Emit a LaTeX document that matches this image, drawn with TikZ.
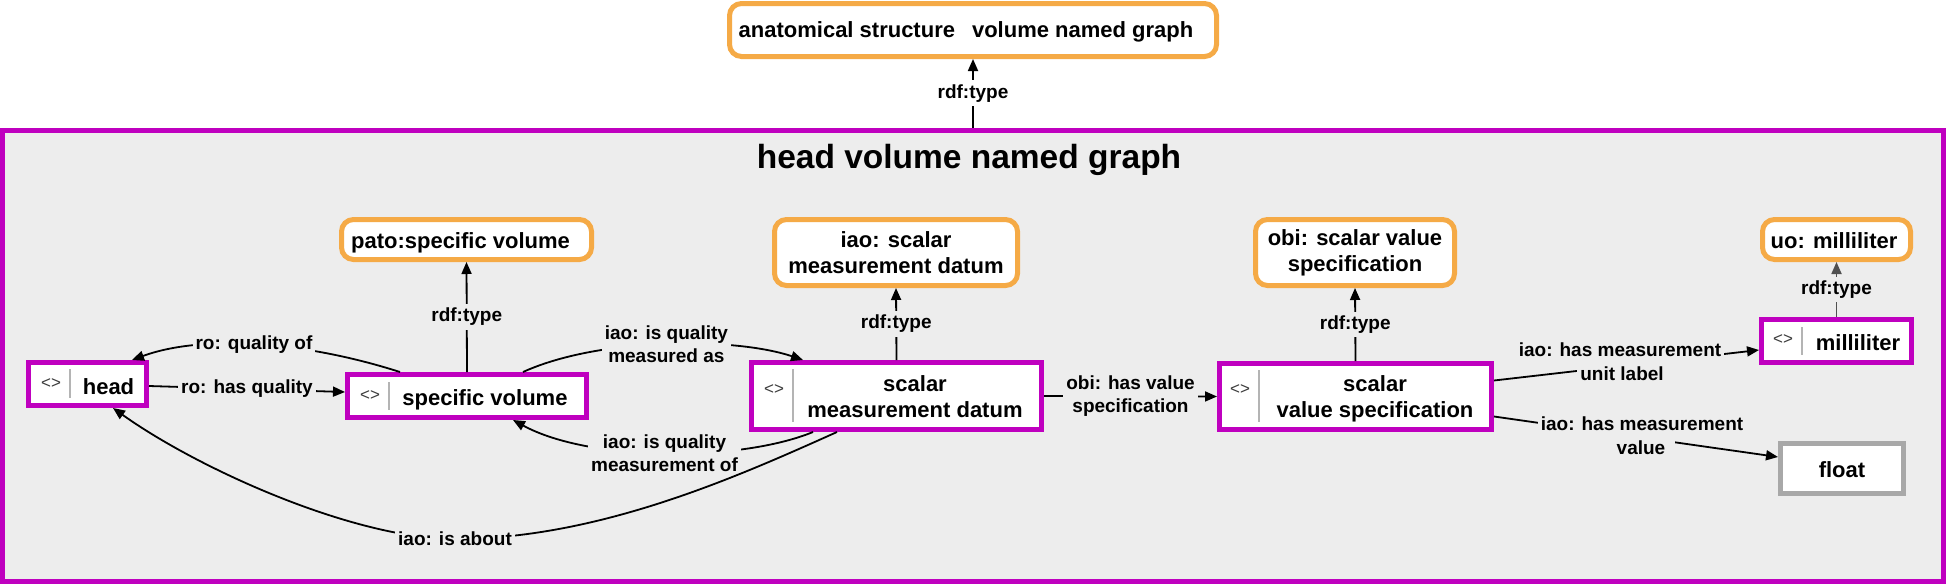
\documentclass[tikz,border=0pt]{standalone}
\usepackage{fontspec}
\setmainfont{Liberation Sans}
\usetikzlibrary{arrows.meta,calc}
\definecolor{pur}{RGB}{191,0,191}
\definecolor{org}{RGB}{245,170,70}
\definecolor{bgc}{RGB}{237,237,237}
\definecolor{fgray}{RGB}{168,168,168}
\definecolor{sepc}{RGB}{180,180,180}
\definecolor{icon}{RGB}{60,60,60}
\definecolor{dg}{RGB}{80,80,80}
\begin{document}
\begin{tikzpicture}[x=1pt,y=-1pt,
  pbox/.style={draw=pur, line width=5pt, fill=white, inner sep=0pt},
  obox/.style={draw=org, line width=5pt, fill=white, rounded corners=12pt, inner sep=0pt, align=center,
               font=\fontsize{22}{26}\selectfont\bfseries},
  gbox/.style={draw=fgray, line width=5pt, fill=white, inner sep=0pt,
               font=\fontsize{22}{26}\selectfont\bfseries},
  one/.style={text height=21pt, text depth=4pt},
  ntext/.style={font=\fontsize{22}{26}\selectfont\bfseries, inner sep=0pt, align=center},
  lbl/.style={font=\fontsize{19}{23}\selectfont\bfseries, fill=bgc, inner xsep=3pt, inner ysep=4pt, align=center},
  lbl5/.style={lbl, inner ysep=5pt},
  conn/.style={line width=1.8pt, -{Triangle[length=12pt,width=10pt]}},
  icn/.style={font=\fontsize{17}{17}\selectfont, text=icon, inner sep=0pt, anchor=base},
  sepl/.style={draw=sepc, line width=2pt},
  ttl/.style={font=\fontsize{33.5}{36}\selectfont\bfseries, inner sep=0pt, anchor=base}]
\useasboundingbox (0,0) rectangle (1946,584);

% named graph frame
\node[pbox, fill=bgc, minimum width=1941pt, minimum height=451pt] (frame) at (973,355.5) {};
\node[ttl] (title) at (969,168) {head volume named graph};

% top class
\node[obox, one, text height=20pt, text depth=6pt, minimum width=487pt, minimum height=53pt] (top) at (973,30)
  {anatomical structure\hspace{17pt}volume named graph\kern14pt};
\draw[conn] (frame.north) -- node[lbl, fill=white] (l0) {rdf:type} (top.south);

% orange classes
\node[obox, one, minimum width=250pt, minimum height=40pt] (pato) at (466.5,239.5) {pato:specific volume\kern12pt};
\node[obox, minimum width=243pt, minimum height=66pt] (iao) at (896,252.5) {iao: scalar\\measurement datum};
\node[obox, minimum width=199pt, minimum height=66pt] (obi) at (1355,252.5) {obi: scalar value\\specification};
\node[obox, one, minimum width=148pt, minimum height=40pt] (uo) at (1836.5,239.5) {uo: milliliter\kern5pt};

% head
\node[pbox, minimum width=118pt, minimum height=43pt] (head) at (87.5,384) {};
\node[icn] (head-i) at (51,388) {<>};
\draw[sepl] (70,369) -- (70,398);
\node[ntext, anchor=base] (head-t) at (108.5,394) {head};

% specific volume
\node[pbox, minimum width=239pt, minimum height=43pt] (sv) at (467,396) {};
\node[icn] (sv-i) at (370,400) {<>};
\draw[sepl] (389,382) -- (389,410);
\node[ntext, anchor=base] (sv-t) at (485,405) {specific volume};

% scalar measurement datum
\node[pbox, minimum width=290pt, minimum height=67pt] (smd) at (896.5,396) {};
\node[icn] (smd-i) at (774,394) {<>};
\draw[sepl] (793,369) -- (793,422);
\node[ntext] (smd-t) at (915,397) {scalar\\measurement datum};

% scalar value specification
\node[pbox, minimum width=272pt, minimum height=66pt] (svs) at (1355.5,396.5) {};
\node[icn] (svs-i) at (1240,394) {<>};
\draw[sepl] (1259,370) -- (1259,422);
\node[ntext] (svs-t) at (1375,399) {scalar\\value specification};

% milliliter
\node[pbox, minimum width=150pt, minimum height=43pt] (ml) at (1836.5,341) {};
\node[icn] (ml-i) at (1783,344) {<>};
\draw[sepl] (1802,327) -- (1802,355);
\node[ntext, anchor=base] (ml-t) at (1858,350) {milliliter};

% float
\node[gbox, one, minimum width=123pt, minimum height=50pt] (fl) at (1842,468.5) {float};

% rdf:type connectors
\draw[conn] (sv.north) -- node[lbl] (l1) {rdf:type} (pato.south);
\draw[conn] (smd.north) -- node[lbl] (l2) {rdf:type} (iao.south);
\draw[conn] (svs.north) -- node[lbl] (l3) {rdf:type} (obi.south);
\draw[conn, draw=dg] (ml.north) -- node[lbl] (l4) {rdf:type} (uo.south);

% relations
\draw[conn] ([yshift=-2pt]head.east) -- node[lbl] (l5) {ro: has quality} ([yshift=4pt]sv.west);
\draw[conn] ([xshift=55pt]sv.north west) .. controls (300,340) and (200,335) ..
  ([xshift=106pt]head.north west) node[lbl, pos=0.5] (l6) {ro: quality of};
\draw[conn] ([xshift=178pt]sv.north west) .. controls (600,337) and (735,337) ..
  ([xshift=54pt]smd.north west) node[lbl, pos=0.5] (l7) {iao: is quality\\measured as};
\draw[conn] ([xshift=64pt]smd.south west) .. controls (740,462) and (590,462) ..
  ([xshift=168pt]sv.south west) node[lbl, pos=0.5] (l8) {iao: is quality\\measurement of};
\draw[conn] ([xshift=88pt]smd.south west) .. controls (741,475) and (600,539) .. (455,539)
  node[lbl] (l9) {iao: is about}
  .. controls (355,539) and (200,470) .. ([xshift=87pt]head.south west);
\draw[conn] (smd.east) -- node[lbl] (l10) {obi: has value\\specification} (svs.west);
\draw[conn] ([yshift=16pt]svs.east) -- ([yshift=-9pt]ml.west);
\node[lbl5] (l11a) at (1620,350) {iao: has measurement};
\node[lbl5] (l11b) at (1622,374) {unit label};
\draw[conn] ([yshift=-20pt]svs.east) -- ([yshift=11.5pt]fl.west);
\node[lbl5] (l12a) at (1642,424) {iao: has measurement};
\node[lbl5, inner xsep=10pt] (l12b) at (1641,448) {value};
\end{tikzpicture}
\end{document}
